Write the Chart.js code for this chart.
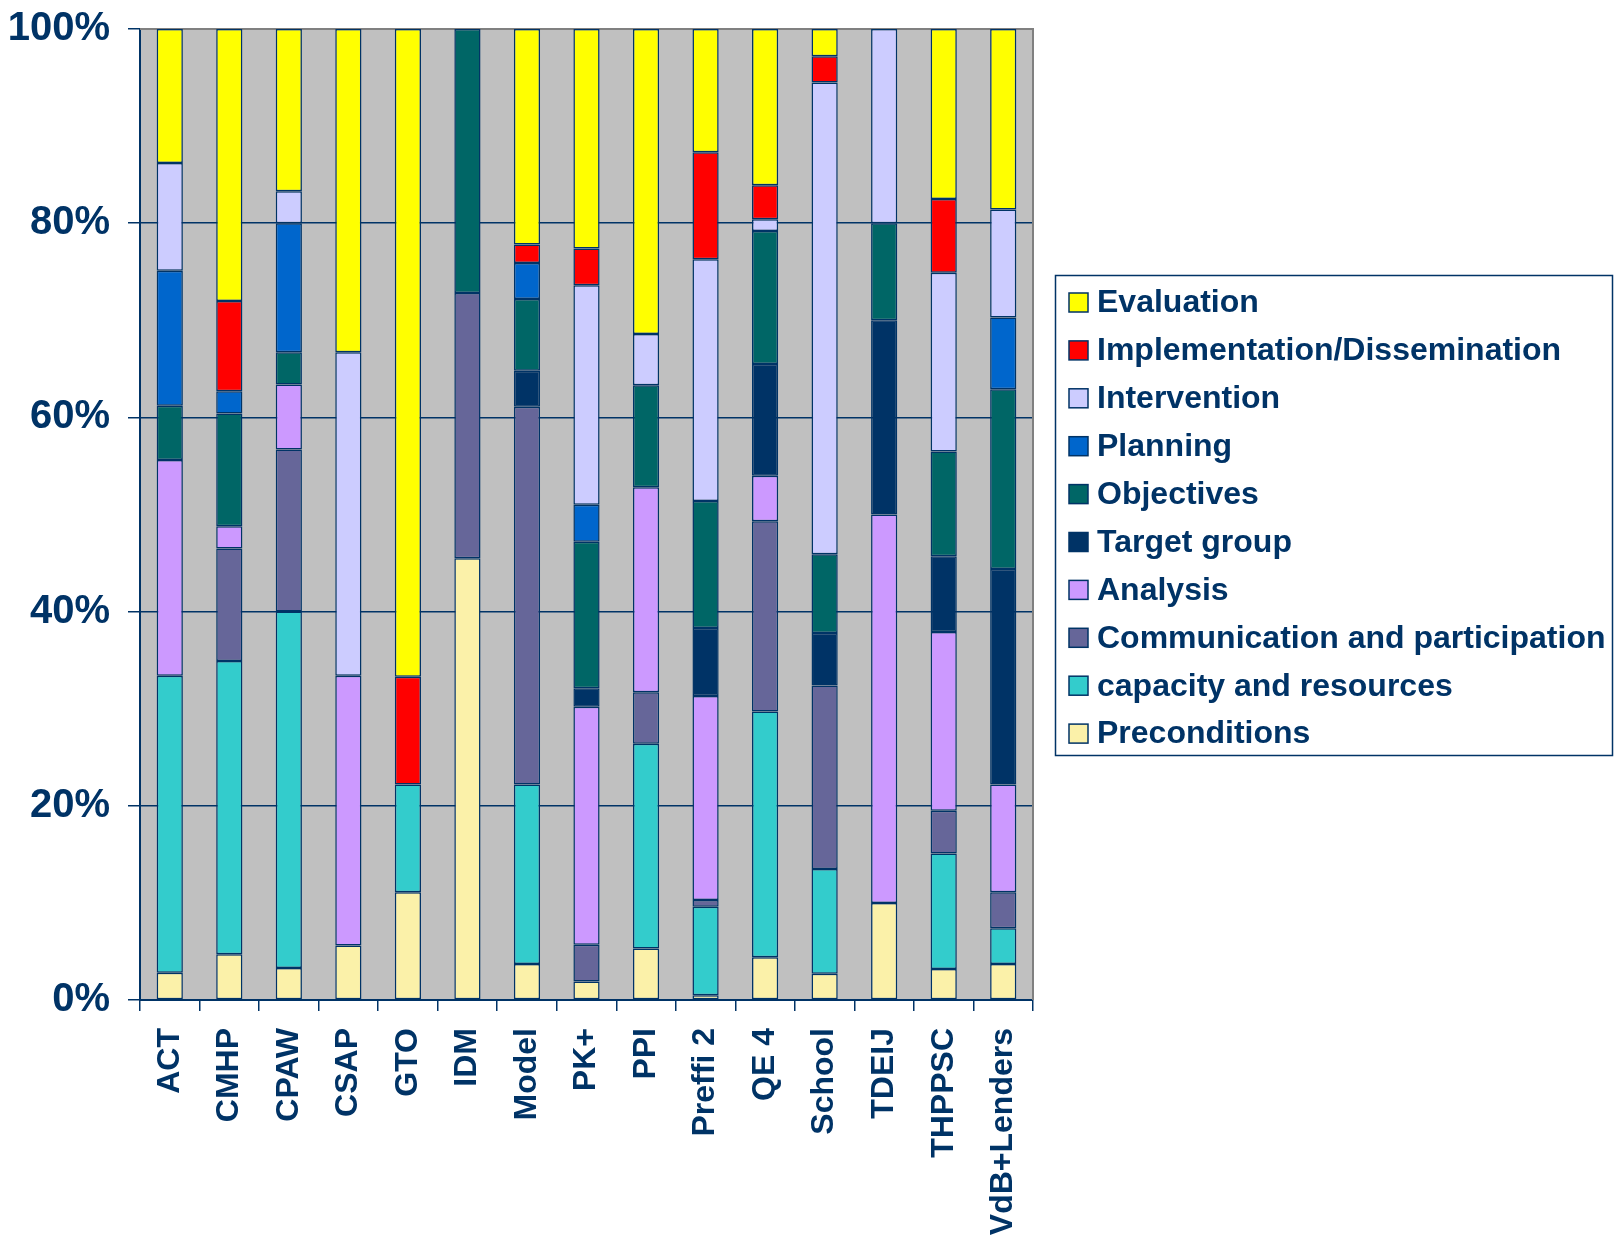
<!DOCTYPE html>
<html>
<head>
<meta charset="utf-8">
<style>
  html, body { margin: 0; padding: 0; background: #ffffff; }
  #wrap { width: 1619px; height: 1239px; }
</style>
<script src="https://cdn.jsdelivr.net/npm/chart.js@4"></script>
</head>
<body>
<div id="wrap"><canvas id="chart" width="1619" height="1239"></canvas></div>
<script>
// Share (%) of each planning component per model
const categories = ['ACT', 'CMHP', 'CPAW', 'CSAP', 'GTO', 'IDM', 'Model', 'PK+', 'PPI', 'Preffi 2', 'QE 4', 'School', 'TDEIJ', 'THPPSC', 'VdB+Lenders'];

const preconditions  = [2.8, 4.7, 3.3, 5.6, 11.1, 45.5, 3.7, 1.9, 5.3, 0.5, 4.4, 2.7, 10, 3.2, 3.7];
const capacity       = [30.6, 30.2, 36.7, 0, 11.1, 0, 18.5, 0, 21.1, 9.1, 25.3, 10.8, 0, 11.9, 3.7];
const communication  = [0, 11.6, 16.7, 0, 0, 27.3, 38.9, 3.8, 5.3, 0.7, 19.6, 18.9, 0, 4.4, 3.7];
const analysis       = [22.2, 2.3, 6.7, 27.8, 0, 0, 0, 24.5, 21.1, 21.0, 4.7, 0, 40, 18.4, 11.1];
const targetGroup    = [0, 0, 0, 0, 0, 0, 3.7, 1.9, 0, 7.0, 11.5, 5.4, 20, 7.8, 22.2];
const objectives     = [5.6, 11.6, 3.3, 0, 0, 27.2, 7.4, 15.1, 10.5, 13.1, 13.7, 8.1, 10, 10.8, 18.5];
const planning       = [13.9, 2.3, 13.3, 0, 0, 0, 3.7, 3.8, 0, 0, 0, 0, 0, 0, 7.4];
const intervention   = [11.1, 0, 3.3, 33.3, 0, 0, 0, 22.6, 5.3, 24.9, 1.2, 48.6, 20, 18.4, 11.1];
const implementation = [0, 9.3, 0, 0, 11.1, 0, 1.9, 3.8, 0, 11.0, 3.5, 2.7, 0, 7.6, 0];
const evaluation     = [13.8, 28.0, 16.7, 33.3, 66.7, 0, 22.2, 22.6, 31.4, 12.7, 16.1, 2.8, 0, 17.5, 18.6];

const yTicks = [0, 20, 40, 60, 80, 100];

const NAVY = '#003366';
const FONT = '"Liberation Sans", Arial, sans-serif';

// bottom of the stack first
const series = [
  { label: 'Preconditions', data: preconditions, color: '#FBF1A9' },
  { label: 'capacity and resources', data: capacity, color: '#33CCCC' },
  { label: 'Communication and participation', data: communication, color: '#666699' },
  { label: 'Analysis', data: analysis, color: '#CC99FF' },
  { label: 'Target group', data: targetGroup, color: '#003366' },
  { label: 'Objectives', data: objectives, color: '#006666' },
  { label: 'Planning', data: planning, color: '#0066CC' },
  { label: 'Intervention', data: intervention, color: '#CCCCFF' },
  { label: 'Implementation/Dissemination', data: implementation, color: '#FF0000' },
  { label: 'Evaluation', data: evaluation, color: '#FFFF00' }
];

// grey plot background with a thin grey frame on top and right
const plotFrame = {
  id: 'plotFrame',
  beforeDraw(chart) {
    const { ctx, chartArea: a } = chart;
    ctx.save();
    ctx.fillStyle = '#C0C0C0';
    ctx.fillRect(a.left, a.top, a.right - a.left, a.bottom - a.top);
    ctx.restore();
  },
  beforeDatasetsDraw(chart) {
    const { ctx, chartArea: a } = chart;
    ctx.save();
    ctx.strokeStyle = '#808080';
    ctx.lineWidth = 2;
    ctx.beginPath();
    ctx.moveTo(a.left, a.top);
    ctx.lineTo(a.right, a.top);
    ctx.lineTo(a.right, a.bottom);
    ctx.stroke();
    ctx.restore();
  }
};

// boxed legend to the right of the plot, top of the stack listed first
const boxedLegend = {
  id: 'boxedLegend',
  afterDraw(chart) {
    const { ctx } = chart;
    const box = { x: 1055, y: 275, w: 557, h: 480 };
    ctx.save();
    ctx.fillStyle = '#ffffff';
    ctx.fillRect(box.x, box.y, box.w, box.h);
    ctx.strokeStyle = NAVY;
    ctx.lineWidth = 1.5;
    ctx.strokeRect(box.x + 0.5, box.y + 0.5, box.w, box.h);

    const sets = chart.data.datasets.slice().reverse();
    const firstY = 302.5, step = 47.9, size = 19;
    ctx.font = 'bold 32px ' + FONT;
    ctx.textBaseline = 'middle';
    ctx.textAlign = 'left';
    sets.forEach((ds, i) => {
      const cy = firstY + i * step;
      ctx.fillStyle = ds.backgroundColor;
      ctx.fillRect(1069, cy - size / 2, size, size);
      ctx.strokeStyle = NAVY;
      ctx.lineWidth = 1.5;
      ctx.strokeRect(1069, cy - size / 2, size, size);
      ctx.fillStyle = NAVY;
      ctx.fillText(ds.label, 1097, cy + 1);
    });
    ctx.restore();
  }
};

new Chart(document.getElementById('chart'), {
  type: 'bar',
  data: {
    labels: categories,
    datasets: series.map(s => ({
      label: s.label,
      data: s.data,
      backgroundColor: s.color,
      borderColor: NAVY,
      borderWidth: 1.5,
      borderSkipped: false,
      categoryPercentage: 1.0,
      barPercentage: 0.44
    }))
  },
  options: {
    responsive: false,
    animation: false,
    layout: { padding: { top: 29, right: 586, left: 0, bottom: 0 } },
    plugins: {
      legend: { display: false },
      tooltip: { enabled: false }
    },
    scales: {
      x: {
        stacked: true,
        afterFit(scale) {
          scale.height = 239;
          scale.paddingLeft = 0;
          scale.paddingRight = 0;
        },
        grid: {
          offset: true,
          drawOnChartArea: false,
          drawTicks: true,
          tickLength: 11,
          color: NAVY,
          lineWidth: 1.5
        },
        border: { display: true, color: NAVY, width: 2 },
        ticks: {
          autoSkip: false,
          minRotation: 90,
          maxRotation: 90,
          padding: 17,
          color: NAVY,
          font: { family: FONT, size: 32, weight: 'bold' }
        }
      },
      y: {
        stacked: true,
        min: yTicks[0],
        max: yTicks[yTicks.length - 1],
        afterFit(scale) {
          scale.width = 140;
          scale.paddingTop = 0;
          scale.paddingBottom = 0;
        },
        afterBuildTicks(scale) { scale.ticks = yTicks.map(v => ({ value: v })); },
        grid: {
          color: NAVY,
          lineWidth: 1.5,
          tickLength: 12
        },
        border: { display: true, color: NAVY, width: 2 },
        ticks: {
          padding: 18,
          color: NAVY,
          font: { family: FONT, size: 40, weight: 'bold' },
          callback: v => v + '%'
        }
      }
    }
  },
  plugins: [plotFrame, boxedLegend]
});
</script>
</body>
</html>
